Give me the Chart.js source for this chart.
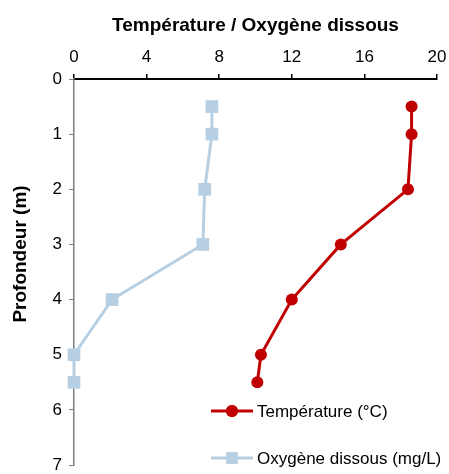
<!DOCTYPE html>
<html>
<head>
<meta charset="utf-8">
<script src="https://cdn.jsdelivr.net/npm/chart.js@4"></script>
<style>
  html, body { margin: 0; padding: 0; background: #fff; }
  #wrap { width: 449px; height: 474px; }
</style>
</head>
<body>
<div id="wrap"><canvas id="myChart" width="449" height="474"></canvas></div>
<script>
//DATA
var depths      = [0.5, 1, 2, 3, 4, 5, 5.5];
var temperature = [18.6, 18.6, 18.4, 14.7, 12.0, 10.3, 10.1];
var oxygen      = [7.6, 7.6, 7.2, 7.1, 2.1, 0, 0];
var xTicks = [0, 4, 8, 12, 16, 20];
var yTicks = [0, 1, 2, 3, 4, 5, 6, 7];
var yTitle = 'Profondeur (m)';

var red = '#C00000';
var blue = '#B7CFE3';
var font = "'Liberation Sans', Arial, sans-serif";

function pts(vals){
  return vals.map(function(v, i){ return {x: v, y: depths[i]}; });
}

Chart.defaults.font.family = font;
Chart.defaults.color = '#000';

//legend drawn inside the plot area + y title
var innerLegend = {
  id: 'innerLegend',
  afterDraw: function(chart){
    var ctx = chart.ctx;
    var rows = [411, 458];
    ctx.save();
    chart.data.datasets.forEach(function(ds, i){
      var y = rows[i];
      ctx.strokeStyle = ds.borderColor;
      ctx.lineWidth = 3;
      ctx.beginPath();
      ctx.moveTo(211, y);
      ctx.lineTo(253, y);
      ctx.stroke();
      ctx.fillStyle = ds.backgroundColor;
      Chart.helpers.drawPoint(ctx, {pointStyle: ds.pointStyle, radius: i == 0 ? 6 : 8, rotation: 0, borderWidth: 0}, 232, y);
      ctx.fill();
      ctx.fillStyle = '#000';
      ctx.font = "17px " + font;
      ctx.textBaseline = 'middle';
      ctx.fillText(ds.label, 257, y + 1);
    });
    //y title
    ctx.translate(21, 254);
    ctx.rotate(-Math.PI / 2);
    ctx.font = "bold 19px " + font;
    ctx.textAlign = 'center';
    ctx.textBaseline = 'middle';
    ctx.fillText(yTitle, 0, 0);
    ctx.restore();
  }
};

var ctx = document.getElementById('myChart').getContext('2d');
var myChart = new Chart(ctx, {
  type: 'line',
  data: {
    datasets: [{
      label: 'Température (°C)',
      data: pts(temperature),
      borderColor: red,
      backgroundColor: red,
      borderWidth: 3,
      pointStyle: 'circle',
      pointRadius: 6,
      pointBorderWidth: 0
    }, {
      label: 'Oxygène dissous (mg/L)',
      data: pts(oxygen),
      borderColor: blue,
      backgroundColor: blue,
      borderWidth: 3,
      pointStyle: 'rect',
      pointRadius: 9,
      pointBorderWidth: 0
    }]
  },
  plugins: [innerLegend],
  options: {
    responsive: false,
    animation: false,
    clip: false,
    layout: { padding: { top: 0, right: 12, bottom: 7, left: 0 } },
    plugins: {
      legend: { display: false },
      tooltip: { enabled: false }
    },
    scales: {
      x: {
        type: 'linear',
        position: 'top',
        min: 0, max: 20,
        afterBuildTicks: function(s){ s.ticks = xTicks.map(function(v){ return {value: v}; }); },
        afterFit: function(s){ s.height = 79; s.paddingLeft = 0; s.paddingRight = 0; },
        border: { color: '#000', width: 2 },
        grid: { drawOnChartArea: false, color: '#000', tickLength: 5, lineWidth: 1.5 },
        ticks: { font: { size: 17 }, padding: 6, maxRotation: 0 },
        title: {
          display: true,
          text: 'Température / Oxygène dissous',
          font: { size: 19, weight: 'bold' },
          padding: { top: 14, bottom: 0 }
        }
      },
      y: {
        type: 'linear',
        reverse: true,
        min: 0, max: 7,
        afterBuildTicks: function(s){ s.ticks = yTicks.map(function(v){ return {value: v}; }); },
        afterFit: function(s){ s.width = 74; s.paddingTop = 0; s.paddingBottom = 0; },
        border: { color: '#7f7f7f', width: 1.5 },
        grid: { drawOnChartArea: false, color: '#7f7f7f', tickLength: 5 },
        ticks: { font: { size: 17 }, padding: 7 }
      }
    }
  }
});
</script>
</body>
</html>
